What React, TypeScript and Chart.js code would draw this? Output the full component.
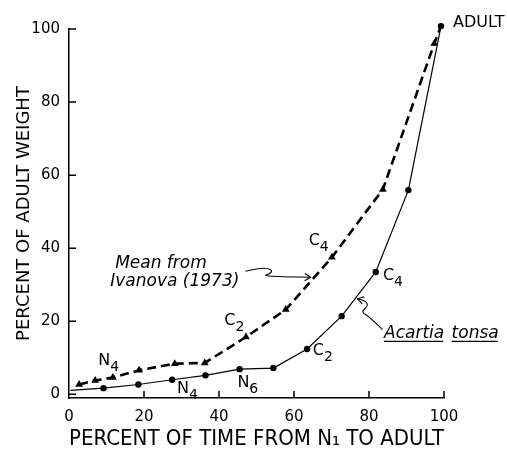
import React, { useEffect, useRef } from "react";
import { Chart, registerables } from "chart.js";

Chart.register(...registerables);

// ---- Data ----
const acartiaX = [0.4, 9.2, 18.5, 27.5, 36.4, 45.5, 54.5, 63.5, 72.7, 81.8, 90.5, 99.2];
const acartiaY = [1.1, 1.7, 2.7, 4.0, 5.2, 6.9, 7.2, 12.4, 21.4, 33.5, 55.9, 100.8];

const ivanovaX = [2.7, 7.0, 11.7, 18.7, 28.2, 36.2, 47.2, 57.8, 70.1, 83.7, 97.4, 99.2];
const ivanovaY = [2.7, 3.8, 4.6, 6.6, 8.4, 8.6, 15.7, 23.2, 37.5, 56.1, 96.0, 100.8];

const xTicks = [0, 20, 40, 60, 80, 100];
const yTicks = [0, 20, 40, 60, 80, 100];

// stage labels (letter + subscript), anchored at left/baseline in data units
const stageMain = ["N", "N", "N", "C", "C", "C", "C"];
const stageSub = ["4", "4", "6", "2", "4", "2", "4"];
const stageX = [7.8, 28.8, 44.9, 41.4, 63.9, 65.0, 83.7];
const stageY = [7.9, 0.5, 1.9, 18.9, 40.8, 10.7, 31.2];

const adultLabel = "ADULT";
const adultX = 102.4;
const adultY = 100.5;

const ivanovaLabelLines = ["Mean from", "Ivanova (1973)"];
const ivanovaLabelX = [12.3, 11.0];
const ivanovaLabelY = [34.5, 29.6];

const acartiaLabelWords = ["Acartia", "tonsa"];
const acartiaLabelX = 84.0;
const acartiaLabelY = 15.3;

// pointer curves (data units), tail -> tip
const ivanovaPointerX = [47.06, 50.53, 53.21, 54.28, 53.21, 52.14, 53.74, 57.75, 64.44];
const ivanovaPointerY = [33.7, 34.52, 34.52, 33.7, 32.88, 32.6, 32.33, 32.19, 32.05];
const acartiaPointerX = [83.61, 79.95, 78.34, 78.34, 79.68, 79.41, 78.34, 76.93];
const acartiaPointerY = [17.73, 21.37, 22.19, 23.01, 24.11, 25.21, 25.75, 26.16];

const FONT = '"DejaVu Sans", sans-serif';

const overlayPlugin = {
  id: "overlay",
  afterDatasetsDraw(chart: any) {
    const { ctx, chartArea } = chart;
    const xs = chart.scales.x;
    const ys = chart.scales.y;
    const px = (v: number) => xs.getPixelForValue(v);
    const py = (v: number) => ys.getPixelForValue(v);
    ctx.save();
    ctx.strokeStyle = "#000";
    ctx.fillStyle = "#000";
    ctx.lineWidth = 1.5;
    // inward tick marks
    ctx.beginPath();
    xs.ticks.forEach((t: any) => {
      if (t.value === 0) return;
      const x = px(t.value);
      ctx.moveTo(x, chartArea.bottom);
      ctx.lineTo(x, chartArea.bottom - 7);
    });
    ys.ticks.forEach((t: any) => {
      const y = py(t.value);
      ctx.moveTo(chartArea.left, y);
      ctx.lineTo(chartArea.left + 7, y);
    });
    ctx.stroke();

    // stage labels
    ctx.textBaseline = "alphabetic";
    ctx.textAlign = "left";
    stageMain.forEach((m, i) => {
      const x = px(stageX[i]);
      const y = py(stageY[i]);
      ctx.font = `16px ${FONT}`;
      ctx.fillText(m, x, y);
      const w = ctx.measureText(m).width;
      ctx.font = `14px ${FONT}`;
      ctx.fillText(stageSub[i], x + w, y + 6);
    });

    // ADULT
    ctx.font = `16px ${FONT}`;
    ctx.fillText(adultLabel, px(adultX), py(adultY));

    // Mean from Ivanova
    ctx.font = `italic 17px ${FONT}`;
    ivanovaLabelLines.forEach((s, i) => {
      ctx.fillText(s, px(ivanovaLabelX[i]), py(ivanovaLabelY[i]));
    });

    // Acartia tonsa underlined
    let ax = px(acartiaLabelX);
    const ay = py(acartiaLabelY);
    ctx.font = `italic 17px ${FONT}`;
    const spaceW = ctx.measureText(" ").width;
    ctx.lineWidth = 1.2;
    acartiaLabelWords.forEach((wd) => {
      ctx.fillText(wd, ax, ay);
      const w = ctx.measureText(wd).width;
      ctx.beginPath();
      ctx.moveTo(ax, ay + 3);
      ctx.lineTo(ax + w - 1, ay + 3);
      ctx.stroke();
      ax += w + spaceW + 2;
    });

    // pointers
    const drawPointer = (xv: number[], yv: number[]) => {
      const pts = xv.map((v, i) => [px(v), py(yv[i])]);
      ctx.lineWidth = 1.1;
      ctx.beginPath();
      ctx.moveTo(pts[0][0], pts[0][1]);
      for (let i = 1; i < pts.length - 1; i++) {
        const mx = (pts[i][0] + pts[i + 1][0]) / 2;
        const my = (pts[i][1] + pts[i + 1][1]) / 2;
        ctx.quadraticCurveTo(pts[i][0], pts[i][1], mx, my);
      }
      const tip = pts[pts.length - 1];
      const prev = pts[pts.length - 2];
      ctx.lineTo(tip[0], tip[1]);
      ctx.stroke();
      const ang = Math.atan2(tip[1] - prev[1], tip[0] - prev[0]);
      const L = 7;
      ctx.beginPath();
      ctx.moveTo(tip[0] - L * Math.cos(ang - 0.55), tip[1] - L * Math.sin(ang - 0.55));
      ctx.lineTo(tip[0], tip[1]);
      ctx.lineTo(tip[0] - L * Math.cos(ang + 0.55), tip[1] - L * Math.sin(ang + 0.55));
      ctx.stroke();
    };
    drawPointer(ivanovaPointerX, ivanovaPointerY);
    drawPointer(acartiaPointerX, acartiaPointerY);

    ctx.restore();
  },
};

export default function App() {
  const canvasRef = useRef<HTMLCanvasElement | null>(null);

  useEffect(() => {
    if (!canvasRef.current) return;
    const chart = new Chart(canvasRef.current, {
      type: "line",
      data: {
        datasets: [
          {
            label: "Mean from Ivanova (1973)",
            data: ivanovaX.map((x, i) => ({ x, y: ivanovaY[i] })),
            borderColor: "#000",
            backgroundColor: "#000",
            borderWidth: 2.6,
            borderDash: [9, 5],
            pointStyle: "triangle",
            pointRadius: (c: any) => (c.dataIndex === ivanovaX.length - 1 ? 0 : 4.5),
            pointBorderWidth: 0,
            tension: 0,
            clip: false as any,
          },
          {
            label: "Acartia tonsa",
            data: acartiaX.map((x, i) => ({ x, y: acartiaY[i] })),
            borderColor: "#000",
            backgroundColor: "#000",
            borderWidth: 1.2,
            pointStyle: "circle",
            pointRadius: (c: any) => (c.dataIndex === 0 ? 0 : 2.6),
            pointBorderWidth: 1.2,
            pointBorderColor: "#000",
            tension: 0,
            clip: false as any,
          },
        ],
      },
      options: {
        animation: false,
        responsive: false,
        layout: { padding: { top: 29, right: 63, left: 0, bottom: 0 } },
        plugins: { legend: { display: false }, tooltip: { enabled: false } },
        scales: {
          x: {
            type: "linear",
            min: 0,
            max: 100,
            afterBuildTicks: (s: any) => {
              s.ticks = xTicks.map((v) => ({ value: v }));
            },
            afterFit: (s: any) => {
              s.height = 57;
            },
            grid: { display: false, drawTicks: false },
            border: { display: true, color: "#000", width: 1.5 },
            ticks: {
              color: "#000",
              padding: 10,
              maxRotation: 0,
              font: { family: FONT, size: 15 },
            },
            title: {
              display: true,
              text: "PERCENT OF TIME FROM N\u2081 TO ADULT",
              color: "#000",
              font: { family: FONT, size: 20.5 },
              padding: { top: 0, bottom: 3 },
            },
          },
          y: {
            type: "linear",
            min: -1,
            max: 100,
            afterBuildTicks: (s: any) => {
              s.ticks = yTicks.map((v) => ({ value: v }));
            },
            afterFit: (s: any) => {
              s.width = 69;
            },
            grid: { display: false, drawTicks: false },
            border: { display: true, color: "#000", width: 1.5 },
            ticks: {
              color: "#000",
              padding: 9,
              font: { family: FONT, size: 15 },
            },
            title: {
              display: true,
              text: "PERCENT OF ADULT WEIGHT",
              color: "#000",
              font: { family: FONT, size: 18 },
              padding: { top: 14, bottom: 0 },
            },
          },
        },
      } as any,
      plugins: [overlayPlugin],
    });
    return () => chart.destroy();
  }, []);

  return (
    <div style={{ position: "fixed", left: 0, top: 0, width: 507, height: 455, background: "#fff" }}>
      <canvas ref={canvasRef} width={507} height={455} style={{ display: "block" }} />
    </div>
  );
}
